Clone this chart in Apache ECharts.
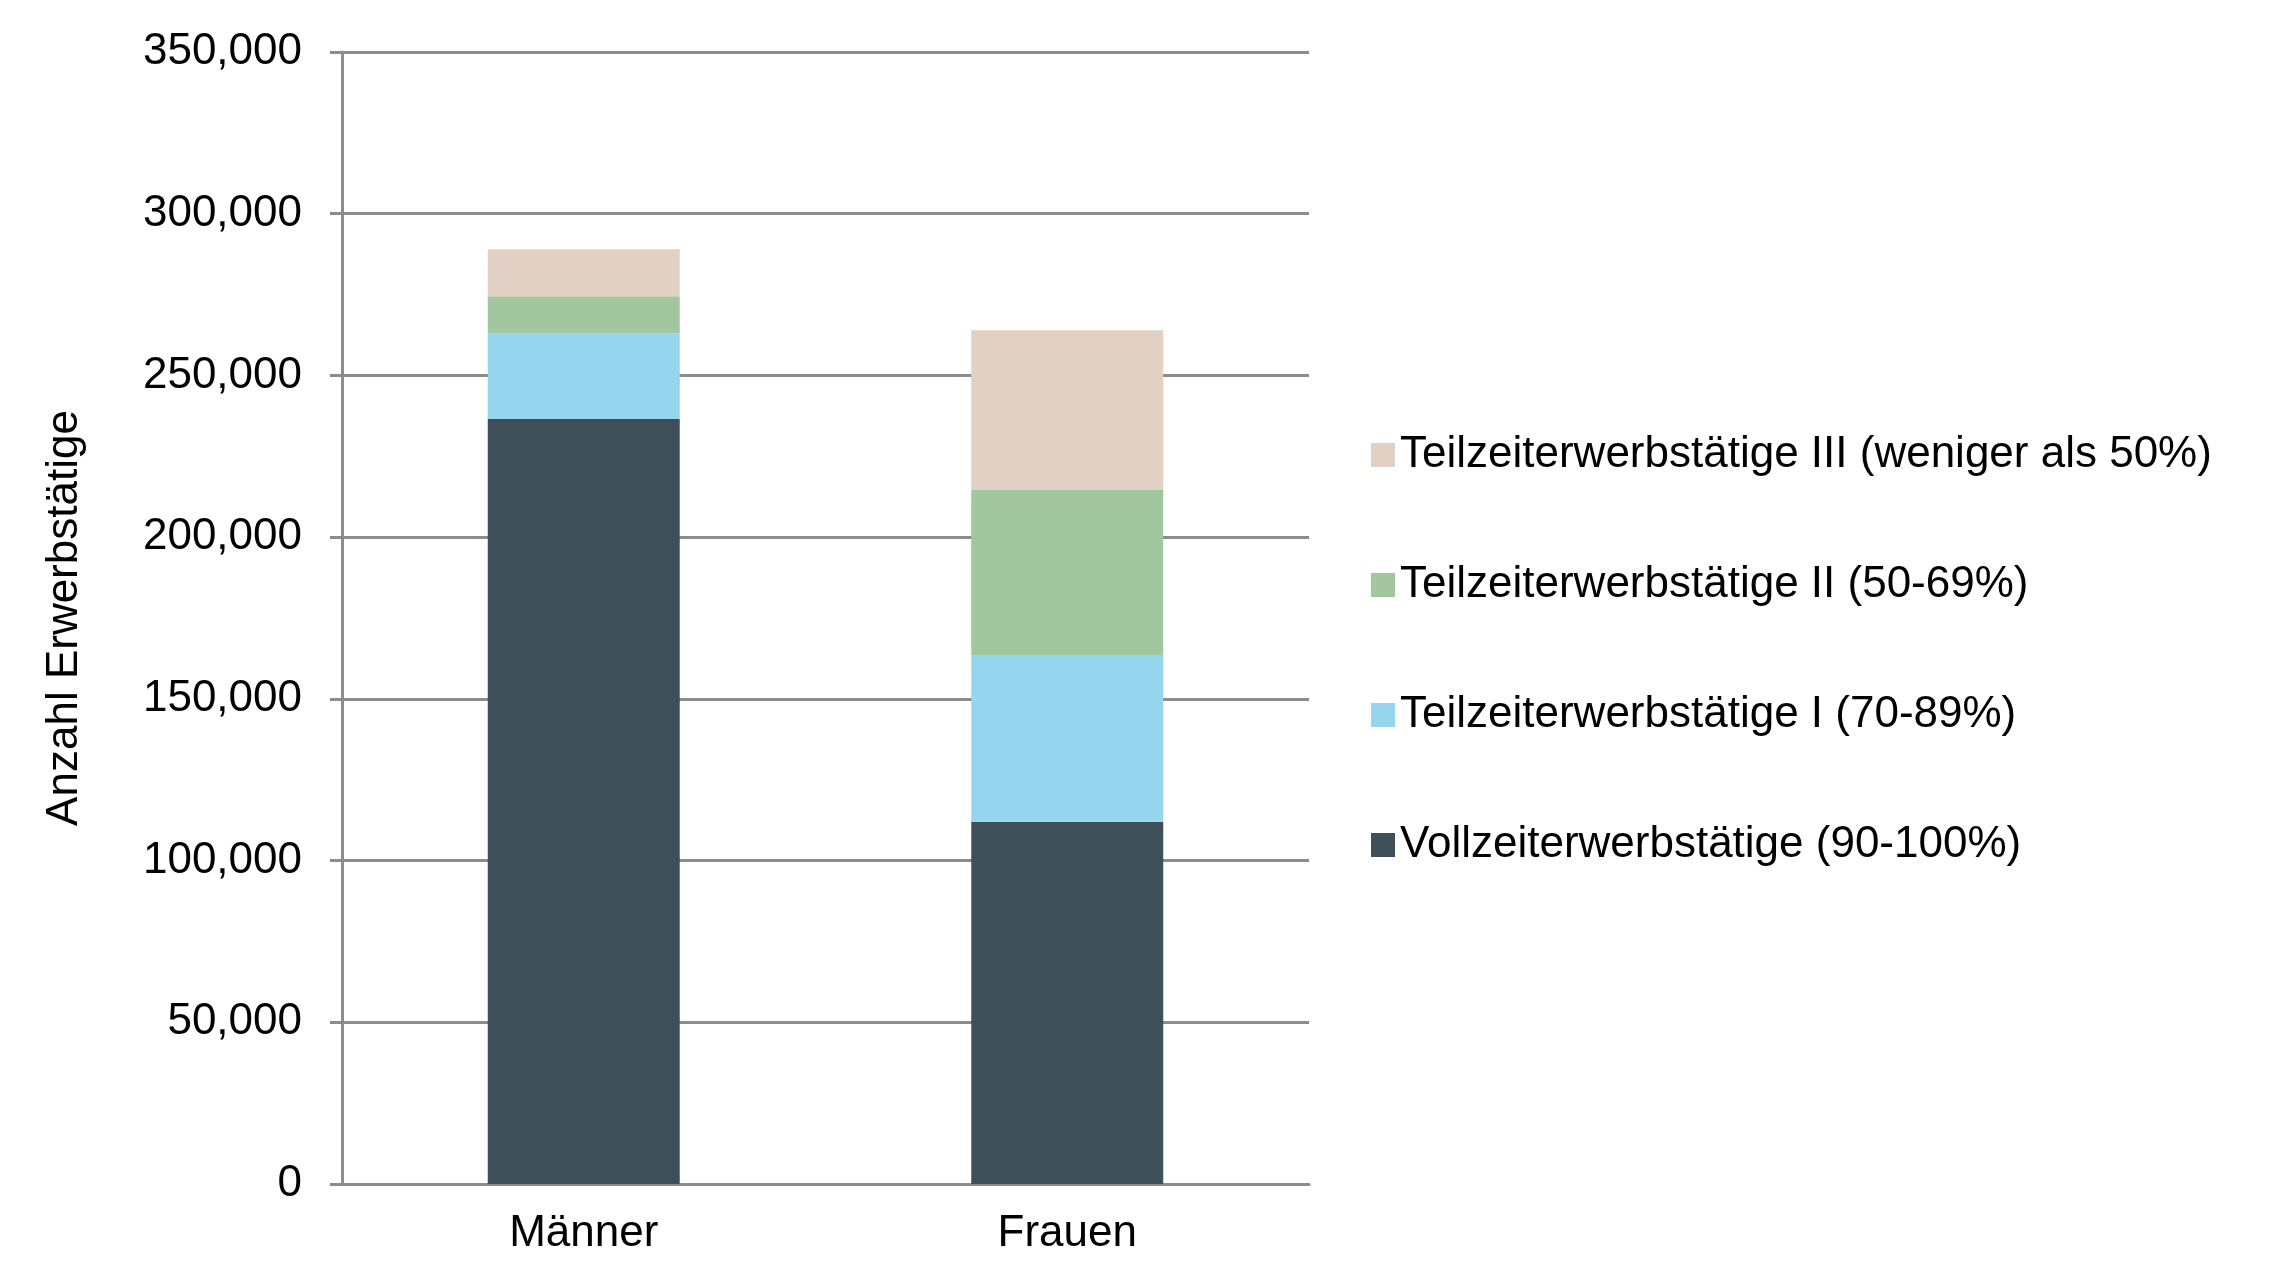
<!DOCTYPE html><html><head><meta charset="utf-8"><script src="https://cdn.jsdelivr.net/npm/echarts@6/dist/echarts.min.js"></script>
<style>html,body{margin:0;background:#fff}#c{width:2295px;height:1282px}</style></head><body><div id="c"></div><script>
const categories=['Männer','Frauen'];
const seriesNames=['Vollzeiterwerbstätige (90-100%)','Teilzeiterwerbstätige I (70-89%)','Teilzeiterwerbstätige II (50-69%)','Teilzeiterwerbstätige III (weniger als 50%)'];
const voll=[236500,112000];
const tz1=[26500,51300];
const tz2=[11500,51300];
const tz3=[14500,49400];
const colors=['#3d4f58','#95d6ee','#a2c79f','#e0d1c4'];
const data=[voll,tz1,tz2,tz3];
const F='Liberation Sans, Arial, sans-serif';
const chart=echarts.init(document.getElementById('c'));
chart.setOption({
animation:false,
grid:{left:342,right:2295-1309,top:52,bottom:1282-1184},
legend:{orient:'vertical',left:1366,top:428,itemWidth:24,itemHeight:24,itemGap:86,
 data:seriesNames.slice().reverse(),textStyle:{fontFamily:F,fontSize:44,color:'#000'},icon:'rect'},
xAxis:{type:'category',data:categories,axisLine:{lineStyle:{color:'#8c8c8c',width:3}},
 axisTick:{length:12,lineStyle:{color:'#8c8c8c',width:3}},
 axisLabel:{fontFamily:F,fontSize:44,color:'#000',margin:28}},
yAxis:{type:'value',min:0,max:350000,interval:50000,name:'Anzahl Erwerbstätige',nameLocation:'middle',nameGap:255,
 nameTextStyle:{fontFamily:F,fontSize:44,color:'#000'},
 axisLine:{show:true,lineStyle:{color:'#8c8c8c',width:3}},axisTick:{show:true,length:12,lineStyle:{color:'#8c8c8c',width:3}},
 splitLine:{lineStyle:{color:'#8c8c8c',width:3}},
 axisLabel:{fontFamily:F,fontSize:44,color:'#000',margin:40}},
series:seriesNames.map((n,i)=>({name:n,type:'bar',stack:'s',barWidth:192,data:data[i],itemStyle:{color:colors[i]}}))
});
</script></body></html>
